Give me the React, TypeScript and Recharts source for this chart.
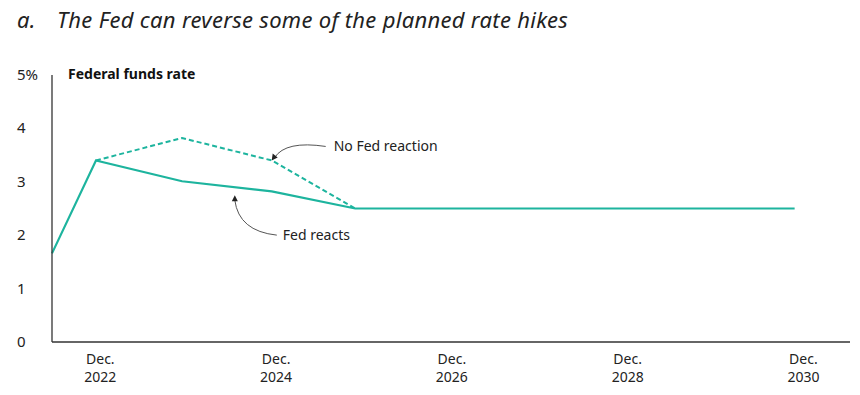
import React from 'react';
import { LineChart, Line, XAxis, YAxis, ReferenceDot } from 'recharts';

// decimal years for each point
const periods = [2022.37, 2022.87, 2023.85, 2024.87, 2025.82, 2026.82, 2027.82, 2028.82, 2029.82, 2030.82];
const fedReacts = [1.66, 3.4, 3.01, 2.82, 2.5, 2.5, 2.5, 2.5, 2.5, 2.5];
const noFedReaction = [null, 3.4, 3.82, 3.4, 2.5, null, null, null, null, null];

const xTicks = [2022.92, 2024.92, 2026.92, 2028.92, 2030.92];
const xTickLabels = ['2022', '2024', '2026', '2028', '2030'];
const yTicks = [0, 1, 2, 3, 4, 5];

const TEAL = '#1db49e';
const INK = '#222';
const FONT = '"Noto Sans", sans-serif';

const data = periods.map((t, i) => ({ t, fedReacts: fedReacts[i], noFedReaction: noFedReaction[i] }));

const YTick = ({ y, payload }: any) => (
  <text x={17} y={y} dy={5} fontSize={15} fill={INK} fontFamily={FONT}>
    {payload.value === 5 ? '5%' : payload.value}
  </text>
);

const XTick = ({ x, y, payload }: any) => {
  const idx = xTicks.indexOf(payload.value);
  return (
    <text x={x} y={y} textAnchor="middle" fontSize={14} fill={INK} fontFamily={FONT}>
      <tspan x={x} dy={14}>Dec.</tspan>
      <tspan x={x} dy={18}>{xTickLabels[idx]}</tspan>
    </text>
  );
};

// annotations drawn relative to the point they point at
const NoReactionNote = ({ cx, cy }: any) => (
  <g>
    <path d={`M ${cx + 54} ${cy - 14} Q ${cx + 14} ${cy - 20} ${cx + 3} ${cy - 3}`} fill="none" stroke="#555" strokeWidth={1} />
    <path d={`M ${cx} ${cy} l 1 -7 l 5 4 z`} fill="#222" />
    <text x={cx + 62} y={cy - 9} fontSize={14} fill={INK} fontFamily={FONT}>No Fed reaction</text>
  </g>
);

const ReactsNote = ({ cx, cy }: any) => {
  const tipY = cy + 8;
  return (
    <g>
      <path d={`M ${cx + 42} ${tipY + 40} Q ${cx + 4} ${tipY + 36} ${cx} ${tipY + 5}`} fill="none" stroke="#555" strokeWidth={1} />
      <path d={`M ${cx} ${tipY} l -3 6 l 6 0 z`} fill="#222" />
      <text x={cx + 48} y={tipY + 45} fontSize={14} fill={INK} fontFamily={FONT}>Fed reacts</text>
    </g>
  );
};

export default function App() {
  return (
    <div style={{ position: 'absolute', left: 0, top: 0, width: 860, height: 395, background: '#fff' }}>
      <div
        style={{
          position: 'absolute',
          left: 17,
          top: 4,
          fontFamily: FONT,
          fontStyle: 'italic',
          fontSize: 22,
          letterSpacing: 0.3,
          color: INK,
          whiteSpace: 'nowrap',
        }}
      >
        <span style={{ display: 'inline-block', width: 40 }}>a.</span>
        The Fed can reverse some of the planned rate hikes
      </div>
      <div
        style={{
          position: 'absolute',
          left: 68,
          top: 64,
          fontFamily: FONT,
          fontWeight: 700,
          fontSize: 14,
          color: '#111',
          whiteSpace: 'nowrap',
        }}
      >
        Federal funds rate
      </div>
      <LineChart width={860} height={395} data={data} margin={{ top: 75, right: 10, bottom: 1, left: 2 }}>
        <XAxis
          dataKey="t"
          type="number"
          domain={[2022.37, 2031.45]}
          ticks={xTicks}
          tick={<XTick />}
          tickLine={false}
          axisLine={{ stroke: '#333', strokeWidth: 1.3 }}
          height={52}
          interval={0}
        />
        <YAxis
          type="number"
          domain={[0, 5]}
          ticks={yTicks}
          tick={<YTick />}
          tickLine={false}
          axisLine={{ stroke: '#333', strokeWidth: 1.3 }}
          width={50}
          interval={0}
        />
        <Line
          dataKey="noFedReaction"
          stroke={TEAL}
          strokeWidth={2}
          strokeDasharray="5 3"
          dot={false}
          connectNulls={false}
          isAnimationActive={false}
        />
        <Line dataKey="fedReacts" stroke={TEAL} strokeWidth={2.2} dot={false} isAnimationActive={false} />
        <ReferenceDot x={periods[3]} y={noFedReaction[3] as number} ifOverflow="visible" shape={<NoReactionNote />} />
        <ReferenceDot x={2024.45} y={2.9} ifOverflow="visible" shape={<ReactsNote />} />
      </LineChart>
    </div>
  );
}
